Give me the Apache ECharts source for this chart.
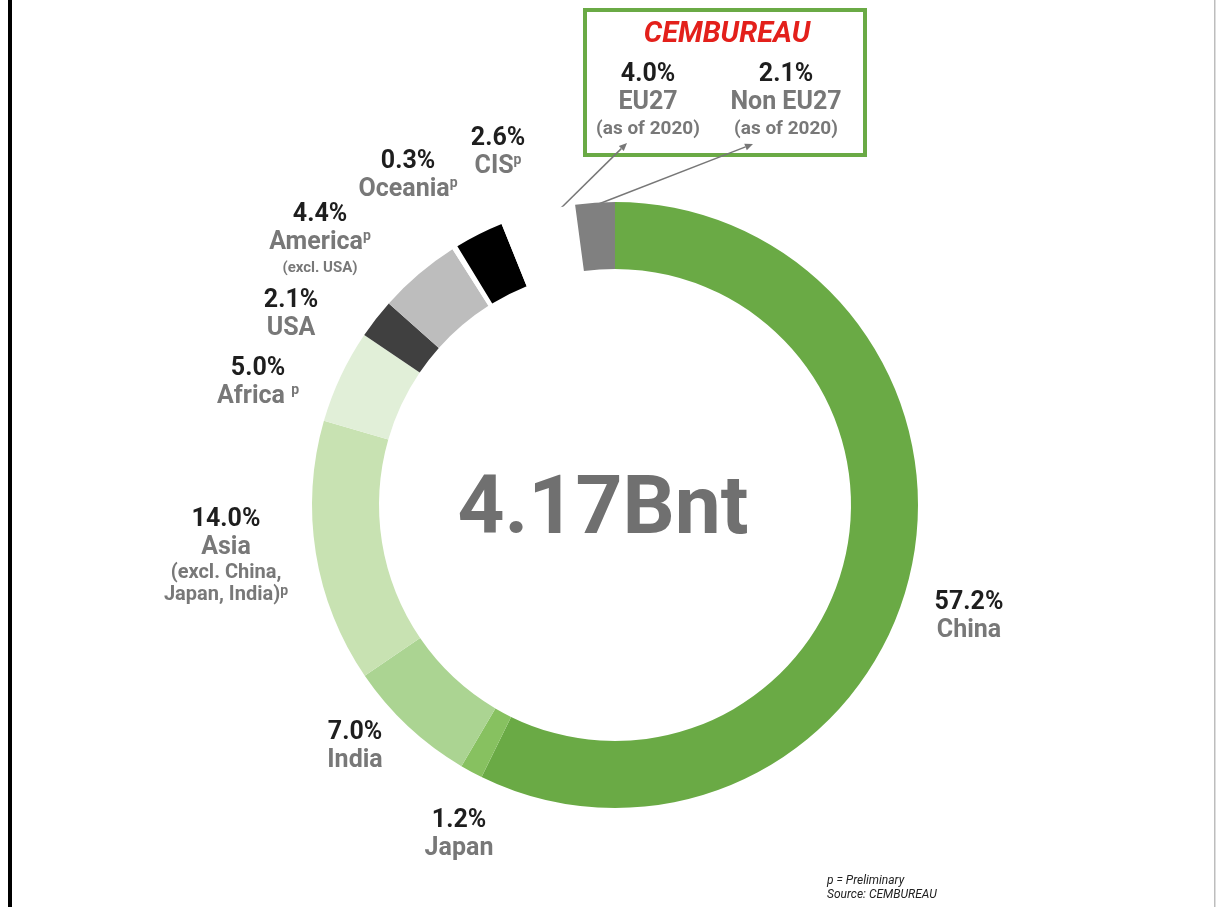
<!doctype html>
<html>
<head>
<meta charset="utf-8">
<title>Cement production by region</title>
<script src="https://cdn.jsdelivr.net/npm/echarts@6/dist/echarts.min.js"></script>
<style>
  html, body { margin: 0; padding: 0; background: #fff; }
  #chart { width: 1216px; height: 907px; }
</style>
</head>
<body>
<div id="chart"></div>
<script type="text/javascript">
    // regions and their share of world cement production (%)
    var regions = ['China', 'Japan', 'India', 'Asia', 'Africa', 'USA', 'America', 'Oceania', 'CIS', 'EU27', 'Non EU27'];
    var shares = [57.2, 1.2, 7.0, 14.0, 5.0, 2.1, 4.4, 0.3, 2.6, 4.0, 2.1];
    // extra line under the region name
    var notes = ['', '', '', '(excl. China,\nJapan, India)', '', '', '(excl. USA)', '', '', '(as of 2020)', '(as of 2020)'];
    // where the "p" (preliminary) mark goes: after the name, after the note, or none
    var prelim = ['', '', '', 'note', 'name ', '', 'name', 'name', 'name', '', ''];
    var totalLabel = '4.17Bnt';
    var boxTitle = 'CEMBUREAU';
    var footnote = 'p = Preliminary\nSource: CEMBUREAU';

    // styling / layout
    var colors = ['#6aaa45', '#87c160', '#abd492', '#c8e2b2', '#e1efd8', '#404040', '#bdbdbd', '#ffffff', '#000000', '#ffffff', '#808080'];
    var noteStyle = ['', '', '', 'nl', '', '', 'ns', '', '', 'nm', 'nm'];
    var labelAt = [[969, 617], [459, 835], [355, 747], [226, 556], [258, 383], [291, 315],
                   [320, 240], [408, 176], [498, 153], [648, 101], [786, 101]];
    var arrows = [[557, 212, 627, 143], [596, 205, 753, 144]];

    var FONT = 'Roboto, "Noto Sans", sans-serif';
    var GRAY = '#787878';

    function labelText(i) {
        var s = '{pct|' + shares[i].toFixed(1) + '%}\n{name|' + regions[i] + '}';
        if (prelim[i].indexOf('name') === 0) {
            s += (prelim[i] === 'name ' ? '{name| }' : '') + '{sup|p}';
        }
        if (notes[i]) {
            var lines = notes[i].split('\n');
            for (var k = 0; k < lines.length; k++) {
                s += '\n{' + noteStyle[i] + '|' + lines[k] + '}';
            }
            if (prelim[i] === 'note') s += '{sup|p}';
        }
        return s;
    }

    var dataMap = regions.map(function (name, i) {
        return { name: name, value: shares[i], itemStyle: { color: colors[i] } };
    });

    var graphics = [
        // page borders
        { type: 'rect', shape: { x: 8, y: 0, width: 4, height: 907 }, style: { fill: '#000' }, silent: true },
        { type: 'rect', shape: { x: 1214, y: 0, width: 1.5, height: 907 }, style: { fill: '#bdbdbd' }, silent: true },
        // CEMBUREAU box
        { type: 'rect', shape: { x: 585, y: 10, width: 280, height: 145 }, style: { fill: 'none', stroke: '#6aaa45', lineWidth: 4 }, silent: true },
        { type: 'text', x: 727, y: 35, style: { text: boxTitle, fill: '#e3201b', font: 'italic bold 29px ' + FONT, align: 'center', verticalAlign: 'middle' }, silent: true },
        // total in the middle
        { type: 'text', x: 603, y: 512, style: { text: totalLabel, fill: '#707070', font: 'bold 82px ' + FONT, align: 'center', verticalAlign: 'middle' }, silent: true },
        // footnote
        { type: 'text', x: 827, y: 874, style: { text: footnote, fill: '#222', font: 'italic 12px ' + FONT, lineHeight: 14, align: 'left', verticalAlign: 'top' }, silent: true }
    ];
    // arrows from the EU slices to the box
    arrows.forEach(function (a) {
        var dx = a[2] - a[0], dy = a[3] - a[1];
        var len = Math.sqrt(dx * dx + dy * dy), ux = dx / len, uy = dy / len;
        var hl = 8, hw = 3.5;
        var bx = a[2] - ux * hl, by = a[3] - uy * hl;
        graphics.push({ type: 'line', shape: { x1: a[0], y1: a[1], x2: bx, y2: by }, style: { stroke: '#777', lineWidth: 1.5 }, silent: true });
        graphics.push({ type: 'polygon', shape: { points: [[a[2], a[3]], [bx - uy * hw, by + ux * hw], [bx + uy * hw, by - ux * hw]] }, style: { fill: '#777' }, silent: true });
    });

    var option = {
        backgroundColor: '#ffffff',
        animation: false,
        graphic: graphics,
        series: [
            {
                type: 'pie',
                center: [615, 505],
                radius: [236, 303],
                startAngle: 90,
                clockwise: true,
                avoidLabelOverlap: false,
                silent: true,
                emphasis: { disabled: true },
                itemStyle: { borderWidth: 0 },
                labelLine: { show: false },
                label: {
                    show: true,
                    position: 'outside',
                    formatter: function (p) { return labelText(p.dataIndex); },
                    rich: {
                        pct: { fontFamily: FONT, fontSize: 25, fontWeight: 'bold', color: '#1e1e1e', lineHeight: 28, align: 'center' },
                        name: { fontFamily: FONT, fontSize: 25, fontWeight: 'bold', color: GRAY, lineHeight: 28, align: 'center' },
                        sup: { fontFamily: FONT, fontSize: 14, fontWeight: 'bold', color: GRAY, lineHeight: 14, align: 'center', verticalAlign: 'top' },
                        nl: { fontFamily: FONT, fontSize: 20, fontWeight: 'bold', color: GRAY, lineHeight: 22, align: 'center' },
                        ns: { fontFamily: FONT, fontSize: 15, fontWeight: 'bold', color: GRAY, lineHeight: 22, align: 'center' },
                        nm: { fontFamily: FONT, fontSize: 19, fontWeight: 'bold', color: GRAY, lineHeight: 24, align: 'center' }
                    }
                },
                labelLayout: function (params) {
                    var p = labelAt[params.dataIndex];
                    return { x: p[0], y: p[1], align: 'center', verticalAlign: 'middle' };
                },
                data: dataMap
            }
        ]
    };

    var myChart = echarts.init(document.getElementById('chart'));
    myChart.setOption(option);
</script>
</body>
</html>
